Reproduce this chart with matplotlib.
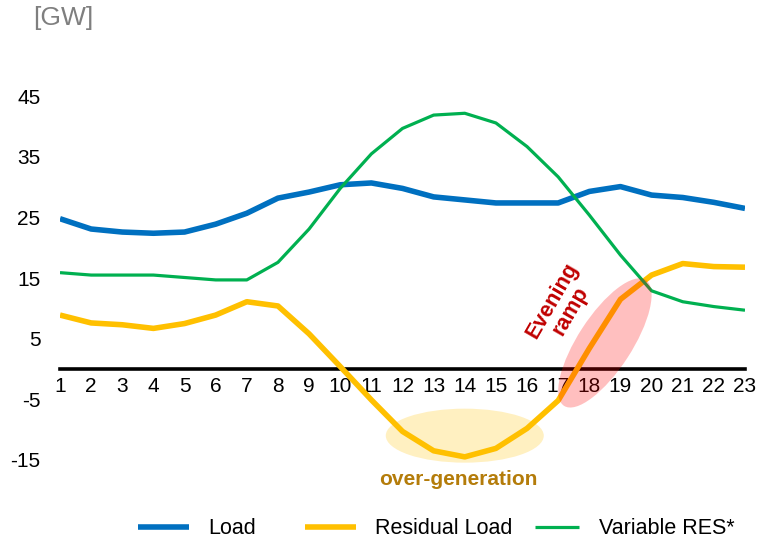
import matplotlib
matplotlib.use("Agg")
import matplotlib.pyplot as plt
from matplotlib.patches import Ellipse
from matplotlib.transforms import ScaledTranslation

plt.rcParams['font.family'] = ['Liberation Sans', 'DejaVu Sans']

hours = list(range(1, 24))
load = [24.8, 23.1, 22.6, 22.4, 22.6, 23.9, 25.7, 28.2, 29.2, 30.4, 30.7,
        29.8, 28.4, 27.9, 27.4, 27.4, 27.4, 29.3, 30.1, 28.7, 28.3, 27.5, 26.5]
res = [15.9, 15.5, 15.5, 15.5, 15.1, 14.7, 14.7, 17.6, 23.1, 29.8, 35.5,
       39.7, 41.9, 42.2, 40.6, 36.7, 31.7, 25.4, 18.8, 12.9, 11.1, 10.3, 9.7]
residual = [8.9, 7.6, 7.3, 6.7, 7.5, 8.9, 11.1, 10.4, 5.8, 0.4, -5.1,
            -10.3, -13.5, -14.5, -13.1, -9.8, -5.2, 3.4, 11.5, 15.5, 17.4, 16.9, 16.8]
yticks = [-15, -5, 5, 15, 25, 35, 45]

W, H, DPI = 762, 539, 100
fig = plt.figure(figsize=(W / DPI, H / DPI), dpi=DPI)
ylo, yhi = -25, 55
pxu = 6.06
top_px = 369 - pxu * yhi
bot_px = 369 - pxu * ylo
ax = fig.add_axes([60 / W, (H - bot_px) / H, (745 - 60) / W, (bot_px - top_px) / H])
ax.set_xlim(1, 23)
ax.set_ylim(ylo, yhi)

l1, = ax.plot(hours, load, color='#0070C0', lw=4.0, label='Load', zorder=3, solid_capstyle='butt')
l2, = ax.plot(hours, residual, color='#FFC000', lw=4.0, label='Residual Load', zorder=3, solid_capstyle='butt')
l3, = ax.plot(hours, res, color='#00B050', lw=2.3, label='Variable RES*', zorder=3, solid_capstyle='butt')

for s in ['top', 'right', 'left']:
    ax.spines[s].set_visible(False)
ax.spines['bottom'].set_position(('data', 0))
ax.spines['bottom'].set_linewidth(2.6)
ax.spines['bottom'].set_color('black')
ax.spines['bottom'].set_zorder(2)
ax.spines['bottom'].set_capstyle('projecting')
ax.set_xticks(hours)
ax.set_xticklabels([str(h) for h in hours])
ax.set_yticks(yticks)
ax.set_yticklabels([str(v) for v in yticks])
ax.tick_params(axis='x', length=0, pad=6, labelsize=15)
ax.tick_params(axis='y', length=0, pad=14, labelsize=15)
ax.patch.set_visible(False)

def px_ellipse(xc, yc, w, h, angle, color, alpha, z):
    tr = fig.dpi_scale_trans + ScaledTranslation(xc, yc, ax.transData)
    e = Ellipse((0, 0), w / DPI, h / DPI, angle=angle, transform=tr,
                facecolor=color, edgecolor='none', alpha=alpha, zorder=z,
                clip_on=False)
    ax.add_patch(e)

px_ellipse(14.0, -11.0, 158, 54, 0, '#FFF0C1', 1.0, 1)
px_ellipse(18.5, 4.3, 150, 54, 57, '#FF0000', 0.25, 4)

ax.text(13.78, -18.2, 'over-generation', color='#B47C0A', fontsize=15,
        fontweight='bold', ha='center', va='center')
ax.text(17.12, 10.4, 'Evening\nramp', color='#C00000', fontsize=15.5,
        fontweight='bold', ha='center', va='center', rotation=60,
        linespacing=1.0)

fig.text(33 / W, 1 - 18 / H, '[GW]', color='#7F7F7F', fontsize=19,
         ha='left', va='center')

for h, xpx, hl in [(l1, 138, 2.35), (l2, 305, 2.35), (l3, 535, 2.05)]:
    fig.legend(handles=[h], loc='center left',
               bbox_to_anchor=(xpx / W, 1 - 529 / H), frameon=False,
               fontsize=15.5, handlelength=hl, handletextpad=0.9,
               borderpad=0, borderaxespad=0)

fig.savefig('out.png', dpi=DPI)
